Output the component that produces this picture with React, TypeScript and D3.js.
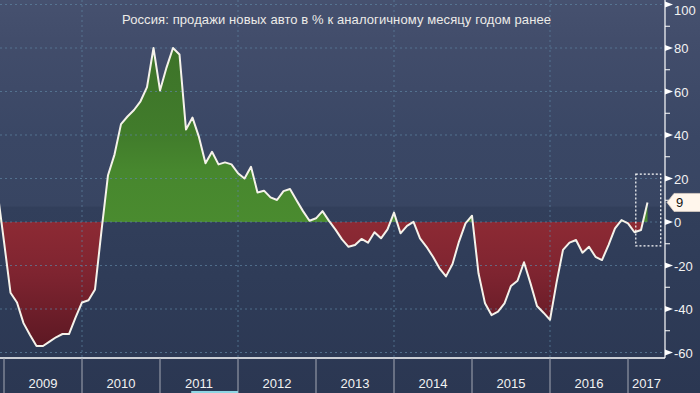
import React, { useEffect } from 'react'
import * as d3 from 'd3'

const WIDTH = 700
const HEIGHT = 393
const PLOT_RIGHT = 665
const PLOT_BOTTOM = 358

const TITLE = 'Россия: продажи новых авто в % к аналогичному месяцу годом ранее'

// monthly y/y change, Nov 2008 .. Mar 2017
const FIRST_YEAR = 2008
const FIRST_MONTH = 11
const values = [
  14, -9,
  -32.5, -37, -46.5, -52, -57, -57, -55, -53, -51.5, -51.5, -44, -37,
  -36, -31, -4, 21.5, 31, 45, 48.5, 51.5, 55.5, 62, 80, 60.5,
  71, 80, 77, 42.5, 48, 39, 27, 32.3, 26.5, 27.4, 26.5, 22.4,
  20, 25.4, 13.6, 14.4, 11.3, 10.1, 14.2, 15.2, 10, 5, 0.6, 1.7,
  5, 0.5, -3.5, -8, -11.4, -10.6, -7.8, -9.5, -4.7, -7.5, -3.4, 4.3,
  -5.2, -1.8, 0.1, -7.5, -11.4, -16, -21.3, -25, -19.3, -9, -0.6, 2.9,
  -23.6, -37.4, -42.8, -41.2, -37.4, -29.4, -27, -18.5, -28.2, -38.6, -41.7, -45,
  -28, -12.8, -9.5, -8.3, -14.1, -11.4, -16, -17.5, -10.6, -2.9, 0.9, -0.6,
  -4.7, -3.7, 9,
]

const years = [2009, 2010, 2011, 2012, 2013, 2014, 2015, 2016, 2017]
const gridYears = [2010, 2012, 2014, 2016]
const yTicks = [-60, -40, -20, 0, 20, 40, 60, 80, 100]
const yMinorTicks = [-50, -30, -10, 10, 30, 50, 70, 90]

// highlight box around the latest months
const boxTime = [2017.1, 2017.42]
const boxValues = [-11, 22]

const data = values.map((v, i) => ({ t: FIRST_YEAR + (FIRST_MONTH + i) / 12, v }))
const last = data[data.length - 1]

const App = () => {
  useEffect(() => {
    document.body.style.margin = '0'
  }, [])

  const x = d3.scaleLinear().domain([2009, 2017]).range([4, 628])
  const y = d3.scaleLinear().domain([-60, 100]).range([352.5, 4.5])
  const y0 = y(0)

  const area = d3.area<{ t: number, v: number }>()
    .x(d => x(d.t))
    .y0(y0)
    .y1(d => y(d.v))
  const line = d3.line<{ t: number, v: number }>()
    .x(d => x(d.t))
    .y(d => y(d.v))

  const gridStyle = { stroke: '#5e84a2', strokeWidth: 1, strokeDasharray: '2,3', opacity: 0.7 }
  const font = '"Liberation Sans", Arial, sans-serif'
  const ly = y(last.v)

  return (
    <svg width={WIDTH} height={HEIGHT} style={{ display: 'block' }} fontFamily={font}>
      <defs>
        <linearGradient id="bg" x1="0" x2="0" y1="0" y2="1">
          <stop offset="0%" stopColor="#46516f" />
          <stop offset="10%" stopColor="#424d6b" />
          <stop offset="35%" stopColor="#3a4765" />
          <stop offset="52.5%" stopColor="#384562" />
          <stop offset="52.6%" stopColor="#323f5b" />
          <stop offset="70%" stopColor="#2f3c58" />
          <stop offset="100%" stopColor="#2b3752" />
        </linearGradient>
        <linearGradient id="green" gradientUnits="userSpaceOnUse" x1="0" x2="0" y1={y(80)} y2={y0}>
          <stop offset="0%" stopColor="#3d7329" />
          <stop offset="50%" stopColor="#417c2b" />
          <stop offset="70%" stopColor="#47872e" />
          <stop offset="100%" stopColor="#4a8b2f" />
        </linearGradient>
        <linearGradient id="red" gradientUnits="userSpaceOnUse" x1="0" x2="0" y1={y0} y2={y(-60)}>
          <stop offset="0%" stopColor="#8d2a34" />
          <stop offset="40%" stopColor="#7e2430" />
          <stop offset="100%" stopColor="#5a1722" />
        </linearGradient>
        <clipPath id="plot">
          <rect x={0} y={0} width={PLOT_RIGHT} height={PLOT_BOTTOM} />
        </clipPath>
        <clipPath id="above">
          <rect x={0} y={0} width={PLOT_RIGHT} height={y0} />
        </clipPath>
        <clipPath id="below">
          <rect x={0} y={y0} width={PLOT_RIGHT} height={PLOT_BOTTOM - y0} />
        </clipPath>
      </defs>

      <rect x={0} y={0} width={WIDTH} height={HEIGHT} fill="url(#bg)" />

      <g clipPath="url(#plot)">
        <path d={area(data) || ''} fill="url(#green)" clipPath="url(#above)" />
        <path d={area(data) || ''} fill="url(#red)" clipPath="url(#below)" />

        {yTicks.map(t => (
          <line key={t} x1={0} x2={PLOT_RIGHT} y1={y(t)} y2={y(t)} style={gridStyle} />
        ))}
        {gridYears.map(yr => (
          <line key={yr} x1={x(yr)} x2={x(yr)} y1={0} y2={PLOT_BOTTOM} style={gridStyle} />
        ))}

        <path d={line(data) || ''} fill="none" stroke="#f5f2ea" strokeWidth={2} strokeLinejoin="round" />
      </g>

      <rect
        x={x(boxTime[0])} y={y(boxValues[1])}
        width={x(boxTime[1]) - x(boxTime[0])} height={y(boxValues[0]) - y(boxValues[1])}
        fill="none" stroke="#ffffff" strokeWidth={1.2} strokeDasharray="2,2"
      />

      <text x={336.5} y={24} textAnchor="middle" fontSize={13} fill="#ecebe8" textLength={429} lengthAdjust="spacing">
        {TITLE}
      </text>

      {/* right axis */}
      <line x1={PLOT_RIGHT} x2={PLOT_RIGHT} y1={0} y2={PLOT_BOTTOM} stroke="#ffffff" strokeWidth={1.2} />
      {yMinorTicks.map(t => (
        <line key={t} x1={PLOT_RIGHT} x2={PLOT_RIGHT + 5} y1={y(t)} y2={y(t)} stroke="#ffffff" strokeWidth={1} />
      ))}
      {yTicks.map(t => (
        <g key={t} transform={`translate(${PLOT_RIGHT}, ${y(t)})`}>
          <path d="M0,-3 L8,0 L0,3 Z" fill="#ffffff" />
          <text x={9} y={Math.max(5, 15 - y(t))} fontSize={13} fill="#f2f2f2">{t < 0 ? `-${-t}` : t}</text>
        </g>
      ))}

      {/* last value tag */}
      <g transform={`translate(${PLOT_RIGHT + 2}, ${ly})`}>
        <path d="M0,0 L7,-9 L34,-9 L34,9 L7,9 Z" fill="#fff6ec" stroke="#d9cfc4" strokeWidth={0.8} />
        <text x={9} y={5} fontSize={13} fill="#111111">{last.v}</text>
      </g>

      {/* bottom axis */}
      <line x1={0} x2={PLOT_RIGHT} y1={PLOT_BOTTOM} y2={PLOT_BOTTOM} stroke="#ffffff" strokeWidth={1.5} />
      {years.map(yr => {
        const left = x(yr)
        const right = Math.min(x(yr + 1), PLOT_RIGHT)
        return (
          <g key={yr}>
            <line x1={left} x2={left} y1={PLOT_BOTTOM} y2={HEIGHT} stroke="#a4a8b4" strokeWidth={1} />
            <text x={(left + right) / 2} y={388} textAnchor="middle" fontSize={13} fill="#f2f2f2">{yr}</text>
          </g>
        )
      })}
      <rect x={x(2011.4)} y={391} width={x(2012) - x(2011.4)} height={2} fill="#8fd6e4" />
    </svg>
  )
}

export default App
